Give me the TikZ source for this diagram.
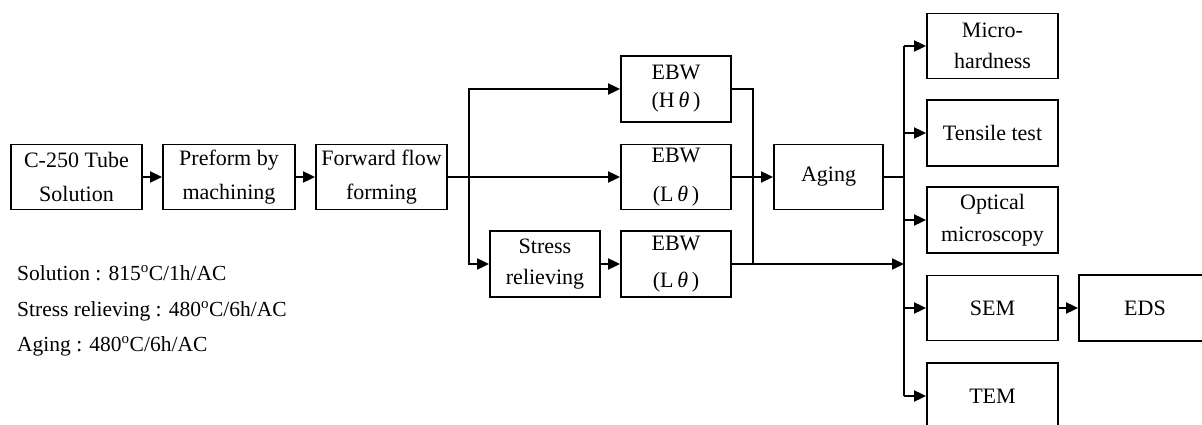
\documentclass[tikz,border=0pt]{standalone}
\usepackage{fontspec}
\setmainfont{Liberation Serif}
\usetikzlibrary{arrows.meta}
\begin{document}
\begin{tikzpicture}[x=1pt,y=-1pt,
  box/.style 2 args={draw,line width=1.8pt,inner sep=0pt,align=center,
    minimum width=#1pt,minimum height=#2pt},
  ls/.style={font=\fontsize{22}{#1}\selectfont},
  conn/.style={line width=1.8pt},
  arr/.style={conn,-{Triangle[length=12pt,width=11pt]}},
  note/.style={anchor=base west,inner sep=0pt,font=\fontsize{21.5}{25}\selectfont},
]
\useasboundingbox (0,0) rectangle (1202,425);
\clip (0,0) rectangle (1202,425);
% left chain
\node[box={131}{65},ls=34] (sol) at (76.5,177) {C-250 Tube\\Solution};
\node[box={132}{65},ls=34] (pre) at (229,177) {Preform by\\machining};
\node[box={131}{65},ls=34] (fwd) at (381.5,177) {Forward flow\\forming};
% EBW branches
\node[box={110}{66},ls=28] (ebwh) at (676,89) {EBW\\(H\,\textit{θ}\,)};
\node[box={110}{65},ls=39] (ebwl) at (676,177) {EBW\\(L\,\textit{θ}\,)};
\node[box={110}{66},ls=31] (sr) at (545,264) {Stress\\relieving};
\node[box={110}{66},ls=37] (ebwb) at (676,264) {EBW\\(L\,\textit{θ}\,)};
\node[box={109}{65},ls=30] (aging) at (828.5,177) {Aging};
% tests
\node[box={131}{65},ls=31] (micro) at (992.5,46) {Micro-\\hardness};
\node[box={131}{66},ls=31] (tens) at (992.5,133) {Tensile test};
\node[box={131}{66},ls=32] (opt) at (992.5,220) {Optical\\microscopy};
\node[box={131}{65},ls=31] (sem) at (992.5,308) {SEM};
\node[box={131}{66},ls=31] (tem) at (992.5,396) {TEM};
\node[box={132}{66},ls=31] (eds) at (1145,308) {EDS};
% helper coordinates
\coordinate (br) at (469,0);
\coordinate (jn) at (753,0);
\coordinate (bus) at (904,0);
% connectors
\draw[arr] (sol.east) -- (pre.west);
\draw[arr] (pre.east) -- (fwd.west);
\draw[arr] (fwd.east) -- (ebwl.west);
\draw[arr] (br |- fwd.east) |- (ebwh.west);
\draw[arr] (br |- fwd.east) |- (sr.west);
\draw[arr] (sr.east) -- (ebwb.west);
\draw[conn] (ebwh.east) -| (jn |- ebwb.east);
\draw[arr] (ebwl.east) -- (aging.west);
\draw[arr] (ebwb.east) -- (bus |- ebwb.east);
\draw[conn] (aging.east) -- (bus |- aging.east);
\draw[conn] (bus |- micro.west) -- (bus |- tem.west);
\foreach \t in {micro,tens,opt,sem,tem}{
  \draw[arr] (bus |- \t.west) -- (\t.west);
}
\draw[arr] (sem.east) -- (eds.west);
% notes
\node[note] (n1) at (17,280) {Solution : 815\textsuperscript{o}C/1h/AC};
\node[note] (n2) at (17,316) {Stress relieving : 480\textsuperscript{o}C/6h/AC};
\node[note] (n3) at (17,351) {Aging : 480\textsuperscript{o}C/6h/AC};
\end{tikzpicture}
\end{document}
